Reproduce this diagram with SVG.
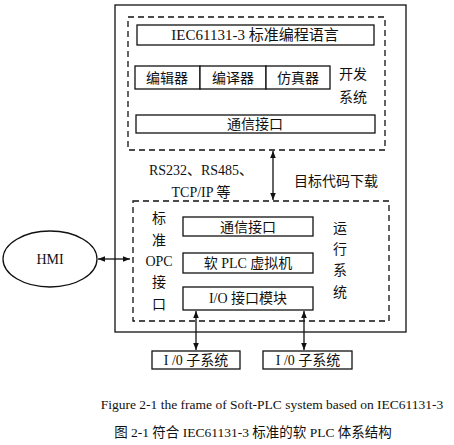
<svg xmlns="http://www.w3.org/2000/svg" width="454" height="445" viewBox="0 0 454 445">
<style>
text{font-family:"Liberation Serif","Noto Sans CJK SC",serif;fill:#111;text-anchor:middle;dominant-baseline:central}
.b{fill:#fff;stroke:#111;stroke-width:1.3}
.d{fill:none;stroke:#111;stroke-width:1.3;stroke-dasharray:6,4}
.l{fill:none;stroke:#111;stroke-width:1.3}
.t{font-size:14px}
.c{font-size:13.5px}
</style>
<defs>
<marker id="ah" viewBox="0 0 10 10" refX="10" refY="5" markerWidth="7" markerHeight="7" orient="auto-start-reverse" markerUnits="userSpaceOnUse"><path d="M0,1 L10,5 L0,9 z" fill="#111"/></marker>
</defs>
<rect width="454" height="445" fill="#fff"/>
<g id="frame"><rect class="b" x="115" y="5" width="291" height="327"/></g>
<g id="dev">
<rect class="d" x="128" y="17" width="257" height="133"/>
<text class="t" x="353" y="74">开发</text>
<text class="t" x="353" y="97">系统</text>
</g>
<g id="iec"><rect class="b" x="137" y="25" width="237" height="20"/><text class="t" x="255" y="35" style="font-size:15px">IEC61131-3 标准编程语言</text></g>
<g id="editor"><rect class="b" x="135" y="66" width="65" height="23"/><text class="t" x="167" y="78">编辑器</text></g>
<g id="compiler"><rect class="b" x="200" y="66" width="66" height="23"/><text class="t" x="233" y="78">编译器</text></g>
<g id="simulator"><rect class="b" x="266" y="66" width="64" height="23"/><text class="t" x="298" y="78">仿真器</text></g>
<g id="comm1"><rect class="b" x="136" y="115" width="239" height="18"/><text class="t" x="255" y="124">通信接口</text></g>
<g id="run">
<rect class="d" x="133" y="201" width="256" height="120"/>
<text class="t" x="340" y="228">运</text>
<text class="t" x="340" y="249">行</text>
<text class="t" x="340" y="270">系</text>
<text class="t" x="340" y="292">统</text>
</g>
<g id="opc">
<text class="t" x="159" y="218">标</text>
<text class="t" x="159" y="240">准</text>
<text class="t" x="159" y="261">OPC</text>
<text class="t" x="159" y="282">接</text>
<text class="t" x="159" y="304">口</text>
</g>
<g id="comm2"><rect class="b" x="183" y="217" width="130" height="19"/><text class="t" x="248" y="227">通信接口</text></g>
<g id="vm"><rect class="b" x="183" y="253" width="130" height="20"/><text class="t" x="248" y="263">软 PLC 虚拟机</text></g>
<g id="io"><rect class="b" x="183" y="287" width="130" height="23"/><text class="t" x="248" y="298">I/O 接口模块</text></g>
<g id="hmi"><ellipse class="b" cx="50" cy="259" rx="47" ry="28"/><text class="t" x="50" y="259">HMI</text></g>
<g id="io1"><rect class="b" x="152" y="351" width="88" height="18"/><text class="t" x="196" y="360">I /0 子系统</text></g>
<g id="io2"><rect class="b" x="263" y="351" width="89" height="18"/><text class="t" x="308" y="360">I /0 子系统</text></g>
<g id="connectors">
<line class="l" x1="273" y1="151" x2="273" y2="200" marker-start="url(#ah)" marker-end="url(#ah)"/>
<line class="l" x1="98" y1="259" x2="130" y2="259" marker-start="url(#ah)" marker-end="url(#ah)"/>
<line class="l" x1="196" y1="311" x2="196" y2="350" marker-start="url(#ah)" marker-end="url(#ah)"/>
<line class="l" x1="304" y1="311" x2="304" y2="350" marker-start="url(#ah)" marker-end="url(#ah)"/>
</g>
<g id="labels">
<text class="t" x="201" y="170">RS232、RS485、</text>
<text class="t" x="201" y="192">TCP/IP 等</text>
<text class="t" x="336" y="181">目标代码下载</text>
</g>
<g id="caption">
<text class="c" x="272" y="404">Figure 2-1 the frame of Soft-PLC system based on IEC61131-3</text>
<text class="c" x="253" y="432">图 2-1 符合 IEC61131-3 标准的软 PLC 体系结构</text>
</g>
</svg>
